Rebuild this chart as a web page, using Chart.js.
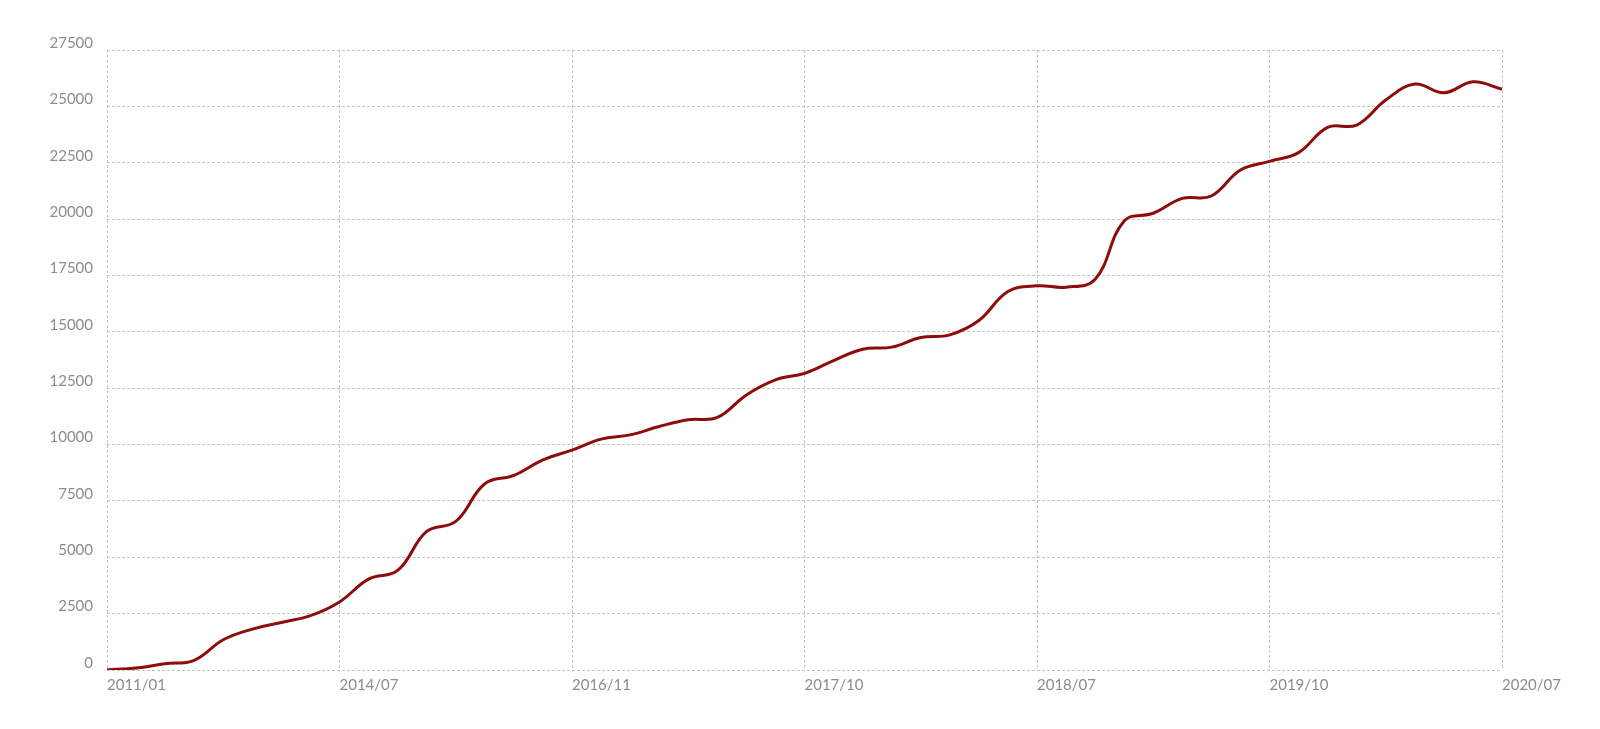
<!DOCTYPE html>
<html lang="en">
<head>
    <meta charset="UTF-8">
    <title>Cumulative total</title>
    <script src="https://cdn.jsdelivr.net/npm/chart.js"></script>
    <style>
        body {
            margin: 0;
            padding: 0;
            background-color: #ffffff;
        }
        .chart-container {
            width: 1600px;
            height: 729px;
        }
    </style>
</head>
<body>
    <div class="chart-container">
        <canvas id="totalChart"></canvas>
    </div>
    <script>
        // categories (only every 8th one is labelled on the axis)
        const months = [
            '2011/01', '2011/06', '2011/11', '2012/04', '2012/09', '2013/02', '2013/07', '2014/01',
            '2014/07', '2014/10', '2015/02', '2015/05', '2015/09', '2015/12', '2016/03', '2016/07',
            '2016/11', '2016/12', '2017/02', '2017/03', '2017/05', '2017/06', '2017/07', '2017/09',
            '2017/10', '2017/11', '2017/12', '2018/01', '2018/02', '2018/03', '2018/04', '2018/05',
            '2018/07', '2018/09', '2018/11', '2019/01', '2019/03', '2019/05', '2019/07', '2019/08',
            '2019/10', '2019/11', '2019/12', '2020/01', '2020/02', '2020/03', '2020/04', '2020/06',
            '2020/07'
        ];

        const totals = [
            0, 90, 280, 430, 1340, 1815, 2110, 2410,
            3020, 4030, 4415, 6145, 6590, 8260, 8630, 9320,
            9750, 10240, 10430, 10800, 11100, 11200, 12200, 12870,
            13160, 13725, 14230, 14320, 14745, 14865, 15500, 16785,
            17040, 16980, 17330, 19920, 20260, 20920, 21025, 22180,
            22560, 22950, 24070, 24170, 25280, 25990, 25600, 26090,
            25760
        ];

        const yMin = 0;
        const yMax = 27500;
        const yStep = 2500;
        const labelEvery = 8;

        const gridColor = '#c4c4c4';
        const textColor = '#8c8c8c';

        const ctx = document.getElementById('totalChart').getContext('2d');
        const totalChart = new Chart(ctx, {
            type: 'line',
            data: {
                labels: months,
                datasets: [{
                    data: totals,
                    borderColor: '#8e0c0c',
                    borderWidth: 3,
                    pointRadius: 0,
                    tension: 0.4,
                    fill: false
                }]
            },
            options: {
                responsive: true,
                maintainAspectRatio: false,
                animation: false,
                layout: {
                    padding: { top: 50, right: 98, left: 0, bottom: 0 }
                },
                plugins: {
                    legend: { display: false },
                    tooltip: { enabled: false }
                },
                scales: {
                    x: {
                        grid: {
                            drawTicks: false,
                            color: c => (c.index % labelEvery === 0 ? gridColor : 'rgba(0,0,0,0)'),
                            lineWidth: 1
                        },
                        // border line off so the first grid line (dashed) stands in for it
                        border: { display: false, dash: [3, 2] },
                        ticks: {
                            autoSkip: false,
                            maxRotation: 0,
                            align: 'start',
                            padding: 6,
                            color: textColor,
                            font: { family: 'Lato', size: 15 },
                            callback: function (val, i) {
                                return i % labelEvery === 0 ? months[i] : '';
                            }
                        },
                        afterFit: scale => { scale.height = 59; }
                    },
                    y: {
                        min: yMin,
                        max: yMax,
                        grid: {
                            drawTicks: false,
                            color: gridColor,
                            lineWidth: 1
                        },
                        border: { display: false, dash: [3, 2] },
                        ticks: {
                            stepSize: yStep,
                            padding: 14,
                            labelOffset: -7,
                            color: textColor,
                            font: { family: 'Lato', size: 15 },
                            callback: v => String(v)
                        },
                        afterFit: scale => { scale.width = 107; }
                    }
                }
            }
        });
    </script>
</body>
</html>
